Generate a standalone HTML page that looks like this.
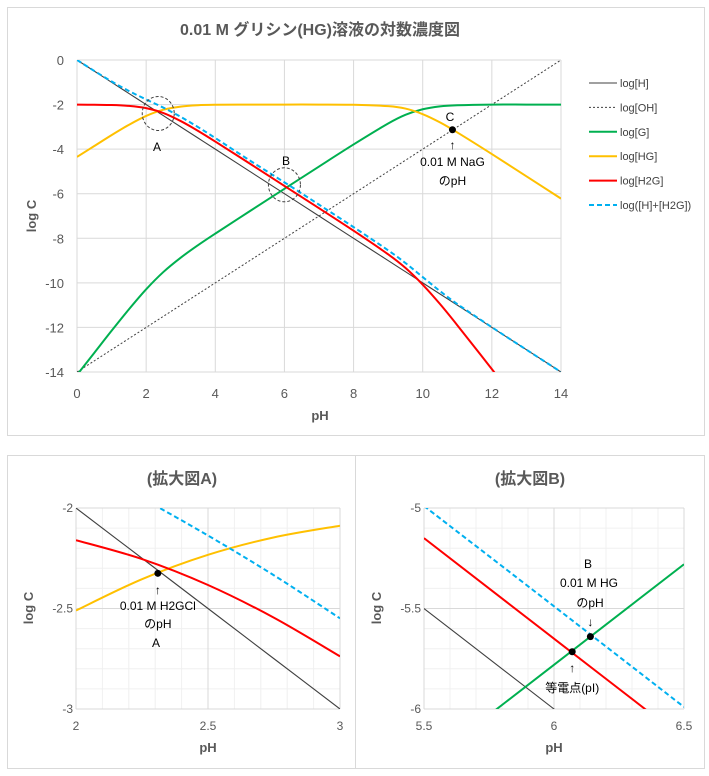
<!DOCTYPE html>
<html><head><meta charset="utf-8">
<style>
body{margin:0;background:#fff;}
svg{display:block;font-family:"Liberation Sans","Noto Sans CJK JP",sans-serif;}
.tk{fill:#595959;font-size:13px;}
.tks{fill:#595959;font-size:12px;}
.ttl{fill:#595959;font-size:16px;font-weight:bold;}
.ax{fill:#595959;font-size:13px;font-weight:bold;}
.lg{fill:#404040;font-size:11px;}
.an{fill:#000;font-size:12px;}
</style></head>
<body>
<svg id="chart" width="709" height="776" viewBox="0 0 709 776" xmlns="http://www.w3.org/2000/svg"></svg>
<script>
// ---- data ----
const pHMain = [0,0.5,1,1.5,2,2.5,3,3.5,4,5,6,7,8,9,9.5,10,10.5,11,12,13,14];
const logH   = [0,-0.5,-1,-1.5,-2,-2.5,-3,-3.5,-4,-5,-6,-7,-8,-9,-9.5,-10,-10.5,-11,-12,-13,-14];
const logOH  = [-14,-13.5,-13,-12.5,-12,-11.5,-11,-10.5,-10,-9,-8,-7,-6,-5,-4.5,-4,-3.5,-3,-2,-1,0];
const logG   = [-14.13,-13.14,-12.15,-11.19,-10.29,-9.51,-8.87,-8.31,-7.79,-6.78,-5.78,-4.78,-3.79,-2.85,-2.46,-2.21,-2.08,-2.03,-2.0,-2.0,-2.0];
const logHG  = [-4.35,-3.86,-3.37,-2.91,-2.51,-2.23,-2.09,-2.03,-2.01,-2.0,-2.0,-2.0,-2.01,-2.07,-2.18,-2.43,-2.8,-3.25,-4.22,-5.22,-6.22];
const logH2G = [-2.0,-2.01,-2.02,-2.06,-2.16,-2.38,-2.74,-3.18,-3.66,-4.65,-5.65,-6.65,-7.66,-8.72,-9.33,-10.08,-10.95,-11.9,-13.87,-15.87,-17.87];
const logSum = [0.0,-0.49,-0.96,-1.39,-1.77,-2.14,-2.55,-3.01,-3.5,-4.51,-5.49,-6.49,-7.5,-8.54,-9.11,-9.74,-10.37,-10.95,-11.99,-13.0,-14.0];
const xTicksMain = [0,2,4,6,8,10,12,14];
const yTicksMain = [0,-2,-4,-6,-8,-10,-12,-14];
// zoom A
const pHA = [2,2.25,2.5,2.75,3];
const aH = [-2,-2.25,-2.5,-2.75,-3];
const aH2G = [-2.16,-2.254,-2.383,-2.546,-2.738];
const aHG = [-2.51,-2.354,-2.233,-2.146,-2.088];
const aSum = [-1.772,-1.951,-2.137,-2.335,-2.549];
const xTicksA = [2,2.5,3];
const yTicksA = [-2,-2.5,-3];
// zoom B
const pHB = [5.5,6,6.5];
const bH = [-5.5,-6,-6.5];
const bH2G = [-5.15,-5.65,-6.15];
const bG = [-6.28,-5.78,-5.28];
const bSum = [-4.99,-5.489,-5.99];
const xTicksB = [5.5,6,6.5];
const yTicksB = [-5,-5.5,-6];
// points
const ptC = [10.86,-3.13];
const ptA = [2.31,-2.325];
const ptB = [6.14,-5.64];
const ptPI = [6.07,-5.715];

const NS="http://www.w3.org/2000/svg";
const svg=document.getElementById('chart');
function mk(tag,attrs,parent,text){const e=document.createElementNS(NS,tag);for(const k in attrs)e.setAttribute(k,attrs[k]);if(text!==undefined)e.textContent=text;(parent||svg).appendChild(e);return e;}
function lin(d0,d1,r0,r1){return v=>r0+(v-d0)*(r1-r0)/(d1-d0);}
function pathD(xs,ys,X,Y){let p=xs.map((x,i)=>[X(x),Y(ys[i])]);let d='M'+p[0][0].toFixed(2)+','+p[0][1].toFixed(2);
 for(let i=0;i<p.length-1;i++){const p0=p[i-1]||p[i],p1=p[i],p2=p[i+1],p3=p[i+2]||p2;
  const c1=[p1[0]+(p2[0]-p0[0])/6,p1[1]+(p2[1]-p0[1])/6],c2=[p2[0]-(p3[0]-p1[0])/6,p2[1]-(p3[1]-p1[1])/6];
  d+=' C'+c1[0].toFixed(2)+','+c1[1].toFixed(2)+' '+c2[0].toFixed(2)+','+c2[1].toFixed(2)+' '+p2[0].toFixed(2)+','+p2[1].toFixed(2);}
 return d;}

// frames
let e;
e=mk('rect',{x:7.5,y:7.5,width:697,height:428,fill:'#fff',stroke:'#d9d9d9'});

e=mk('rect',{x:7.5,y:455.5,width:697,height:313,fill:'#fff',stroke:'#d9d9d9'});

e=mk('line',{x1:355.5,y1:456,x2:355.5,y2:768,stroke:'#d9d9d9'});


// ---- main chart ----
const X=lin(0,14,77,561), Y=lin(0,-14,60,372);
const gMain=mk('g',{});
clip=mk('clipPath',{id:'cm'});mk('rect',{x:77,y:60,width:484,height:312},clip);
xTicksMain.forEach(t=>{e=mk('line',{x1:X(t),y1:60,x2:X(t),y2:372,stroke:'#d9d9d9'},gMain);
 e=mk('text',{x:X(t),y:398,'text-anchor':'middle',class:'tk'},gMain,String(t));});
yTicksMain.forEach(t=>{e=mk('line',{x1:77,y1:Y(t),x2:561,y2:Y(t),stroke:'#d9d9d9'},gMain);
 e=mk('text',{x:64,y:Y(t)+5,'text-anchor':'end',class:'tk'},gMain,String(t));});
const series=[
 ['line-log-h',logH,'#404040',1.1,''],
 ['line-log-oh',logOH,'#404040',1,'2,2'],
 ['line-log-g',logG,'#00b050',2,''],
 ['line-log-hg',logHG,'#ffc000',2,''],
 ['line-log-h2g',logH2G,'#ff0000',2,''],
 ['line-log-h-plus-h2g',logSum,'#00b0f0',2,'5,3']];
series.forEach(s=>{e=mk('path',{d:pathD(pHMain,s[1],X,Y),fill:'none',stroke:s[2],'stroke-width':s[3],'stroke-dasharray':s[4],'clip-path':'url(#cm)'},gMain);
 });
// annotations
e=mk('ellipse',{cx:X(2.35),cy:Y(-2.4),rx:16,ry:17,fill:'none',stroke:'#404040','stroke-dasharray':'3,2'});
e=mk('ellipse',{cx:X(6),cy:Y(-5.6),rx:16,ry:17,fill:'none',stroke:'#404040','stroke-dasharray':'3,2'});
e=mk('text',{x:157,y:151,'text-anchor':'middle',class:'an','font-size':'14'},svg,'A');
e=mk('text',{x:286,y:165,'text-anchor':'middle',class:'an','font-size':'14'},svg,'B');
e=mk('text',{x:450,y:121,'text-anchor':'middle',class:'an','font-size':'14'},svg,'C');
e=mk('circle',{cx:X(ptC[0]),cy:Y(ptC[1]),r:3.5,fill:'#000'});
e=mk('text',{x:X(ptC[0]),y:149,'text-anchor':'middle',class:'an'},svg,'↑');
e=mk('text',{x:X(ptC[0]),y:166,'text-anchor':'middle',class:'an'},svg,'0.01 M NaG');
e=mk('text',{x:X(ptC[0]),y:185,'text-anchor':'middle',class:'an'},svg,'のpH');
e=mk('text',{x:320,y:35,'text-anchor':'middle',class:'ttl'},svg,'0.01 M グリシン(HG)溶液の対数濃度図');
e=mk('text',{x:320,y:420,'text-anchor':'middle',class:'ax'},svg,'pH');
e=mk('text',{x:36,y:216,'text-anchor':'middle',class:'ax',transform:'rotate(-90 36 216)'},svg,'log C');
// legend
const lgNames=['log[H]','log[OH]','log[G]','log[HG]','log[H2G]','log([H]+[H2G])'];
series.forEach((s,i)=>{const y=83+i*24.4;const g=mk('g',{});
 mk('line',{x1:589,y1:y,x2:617,y2:y,stroke:s[2],'stroke-width':s[3],'stroke-dasharray':s[4]},g);
 mk('text',{x:620,y:y+4,class:'lg'},g,lgNames[i]);});

// ---- zoom panels ----
function panel(name,x0,x1,y0,y1,L,R,T,B,xt,yt,xs,lines,title,tx,cid){
 const XX=lin(x0,x1,L,R),YY=lin(y0,y1,T,B);
 const g=mk('g',{});
 const c=mk('clipPath',{id:cid});mk('rect',{x:L,y:T,width:R-L,height:B-T},c);
 for(let i=0;i<=10;i++){const xv=x0+(x1-x0)*i/10,yv=y0+(y1-y0)*i/10;
  mk('line',{x1:XX(xv),y1:T,x2:XX(xv),y2:B,stroke:'#f0f0f0'},g);mk('line',{x1:L,y1:YY(yv),x2:R,y2:YY(yv),stroke:'#f0f0f0'},g);}
 xt.forEach(t=>{e=mk('line',{x1:XX(t),y1:T,x2:XX(t),y2:B,stroke:'#d9d9d9'},g);
  e=mk('text',{x:XX(t),y:730,'text-anchor':'middle',class:'tks'},g,String(t));});
 yt.forEach(t=>{e=mk('line',{x1:L,y1:YY(t),x2:R,y2:YY(t),stroke:'#d9d9d9'},g);
  e=mk('text',{x:L-3,y:YY(t)+4,'text-anchor':'end',class:'tks'},g,String(t));});
 lines.forEach(s=>{e=mk('path',{d:pathD(xs,s[1],XX,YY),fill:'none',stroke:s[2],'stroke-width':s[3],'stroke-dasharray':s[4],'clip-path':'url(#'+cid+')'},g);
  });
 e=mk('text',{x:tx,y:484,'text-anchor':'middle',class:'ttl'},g,title);
 e=mk('text',{x:(L+R)/2,y:752,'text-anchor':'middle',class:'ax'},g,'pH');
 const ax=L-43;e=mk('text',{x:ax,y:608,'text-anchor':'middle',class:'ax',transform:'rotate(-90 '+ax+' 608)'},g,'log C');
 return [XX,YY];}
const [XA,YA]=panel('zoom-panel-a',2,3,-2,-3,76,340,508,709,xTicksA,yTicksA,pHA,[
 ['line-log-h',aH,'#404040',1.1,''],['line-log-hg',aHG,'#ffc000',2,''],['line-log-h2g',aH2G,'#ff0000',2,''],['line-log-h-plus-h2g',aSum,'#00b0f0',2,'5,3']],'(拡大図A)',182,'ca');
const [XB,YB]=panel('zoom-panel-b',5.5,6.5,-5,-6,424,684,508,709,xTicksB,yTicksB,pHB,[
 ['line-log-h',bH,'#404040',1.1,''],['line-log-g',bG,'#00b050',2,''],['line-log-h2g',bH2G,'#ff0000',2,''],['line-log-h-plus-h2g',bSum,'#00b0f0',2,'5,3']],'(拡大図B)',530,'cb');
// panel A annotations
e=mk('circle',{cx:XA(ptA[0]),cy:YA(ptA[1]),r:3.5,fill:'#000'});
e=mk('text',{x:XA(ptA[0]),y:594,'text-anchor':'middle',class:'an'},svg,'↑');
e=mk('text',{x:XA(ptA[0]),y:610,'text-anchor':'middle',class:'an'},svg,'0.01 M H2GCl');
e=mk('text',{x:XA(ptA[0]),y:628,'text-anchor':'middle',class:'an'},svg,'のpH');
e=mk('text',{x:156,y:647,'text-anchor':'middle',class:'an','font-size':'14'},svg,'A');
// panel B annotations
e=mk('text',{x:588,y:568,'text-anchor':'middle',class:'an','font-size':'14'},svg,'B');
e=mk('text',{x:589,y:587,'text-anchor':'middle',class:'an'},svg,'0.01 M HG');
e=mk('text',{x:590,y:607,'text-anchor':'middle',class:'an'},svg,'のpH');
e=mk('text',{x:XB(ptB[0]),y:626,'text-anchor':'middle',class:'an'},svg,'↓');
e=mk('circle',{cx:XB(ptB[0]),cy:YB(ptB[1]),r:3.5,fill:'#000'});
e=mk('circle',{cx:XB(ptPI[0]),cy:YB(ptPI[1]),r:3.5,fill:'#000'});
e=mk('text',{x:XB(ptPI[0]),y:672,'text-anchor':'middle',class:'an'},svg,'↑');
e=mk('text',{x:XB(ptPI[0]),y:692,'text-anchor':'middle',class:'an'},svg,'等電点(pI)');
</script>
</body></html>
